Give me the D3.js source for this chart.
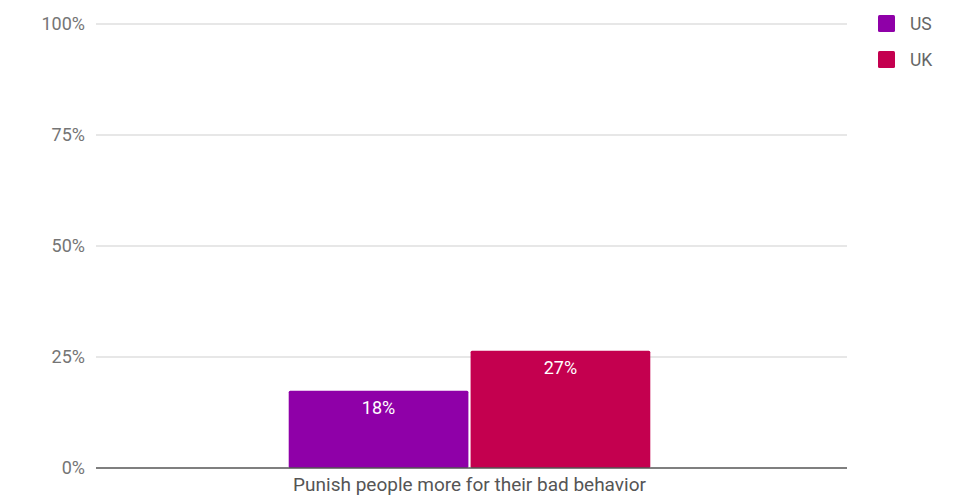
<!DOCTYPE html>
<html><head><meta charset="utf-8">
<script src="https://cdn.jsdelivr.net/npm/d3@7"></script>
<style>body{margin:0;background:#fff;font-family:Roboto,"Noto Sans",sans-serif;}</style>
</head><body><svg id="c" width="958" height="497"></svg>
<script>
const categories = ["Punish people more for their bad behavior"];
const seriesNames = ["US", "UK"];
const usValues = [17.4];
const ukValues = [26.4];
const valueLabels = [["18%"], ["27%"]];
const yTicks = [0, 25, 50, 75, 100];
const colors = ["#8f00a8", "#c4004f"];

const svg = d3.select("#c");
const m = {left: 96, right: 111, top: 24, bottom: 29};
const W = 958, H = 497;
const x0 = d3.scaleBand().domain(categories).range([m.left - 2, W - m.right - 2]).padding(0.35);
const x1 = d3.scaleBand().domain(seriesNames).range([0, x0.bandwidth()]).paddingInner(0.012);
const y = d3.scaleLinear().domain([0, 100]).range([H - m.bottom, m.top]);

// gridlines
svg.append("g").selectAll("line").data(yTicks.filter(d => d > 0)).join("line")
  .attr("x1", m.left).attr("x2", W - m.right)
  .attr("y1", d => y(d)).attr("y2", d => y(d))
  .attr("stroke", "#cfcfcf").attr("stroke-width", 1);

// y axis labels
const yAxis = d3.axisLeft(y).tickValues(yTicks).tickFormat(d => d + "%").tickSize(0).tickPadding(11);
const gy = svg.append("g").attr("transform", `translate(${m.left},0)`).call(yAxis);
gy.select(".domain").remove();
gy.selectAll("text").attr("fill", "#757575").style("font-size", "18px").style("font-family", "Roboto, sans-serif");

const series = [usValues, ukValues];
const g = svg.append("g");
categories.forEach((c, ci) => {
  seriesNames.forEach((s, si) => {
    const v = series[si][ci];
    const bx = x0(c) + x1(s);
    g.append("rect").attr("x", bx).attr("y", y(v)).attr("width", x1.bandwidth())
      .attr("height", y(0) - y(v)).attr("fill", colors[si]).attr("rx", 1.5);
    g.append("text").attr("x", bx + x1.bandwidth() / 2).attr("y", y(v) + 23)
      .attr("text-anchor", "middle").attr("fill", "#fff")
      .style("font-size", "18px").style("font-family", "Roboto, sans-serif")
      .text(valueLabels[si][ci]);
  });
});

// x axis baseline
const xAxis = d3.axisBottom(x0).tickSize(0).tickPadding(10);
const gx = svg.append("g").attr("transform", `translate(0,${y(0)})`).call(xAxis);
gx.select(".domain").remove();
gx.append("line").attr("x1", m.left).attr("x2", W - m.right).attr("y1", 0).attr("y2", 0)
  .attr("stroke", "#555").attr("stroke-width", 1.6);
gx.selectAll("text").attr("fill", "#555").style("font-size", "19px").style("font-family", "Roboto, sans-serif");

// legend
const lg = svg.append("g").attr("transform", "translate(878,15)");
seriesNames.forEach((s, i) => {
  const row = lg.append("g").attr("transform", `translate(0,${i * 36})`);
  row.append("rect").attr("width", 17).attr("height", 17).attr("fill", colors[i]).attr("rx", 1.5);
  row.append("text").attr("x", 32).attr("y", 15).attr("fill", "#666")
    .style("font-size", "17.5px").style("font-family", "Roboto, sans-serif").text(s);
});
</script></body></html>
